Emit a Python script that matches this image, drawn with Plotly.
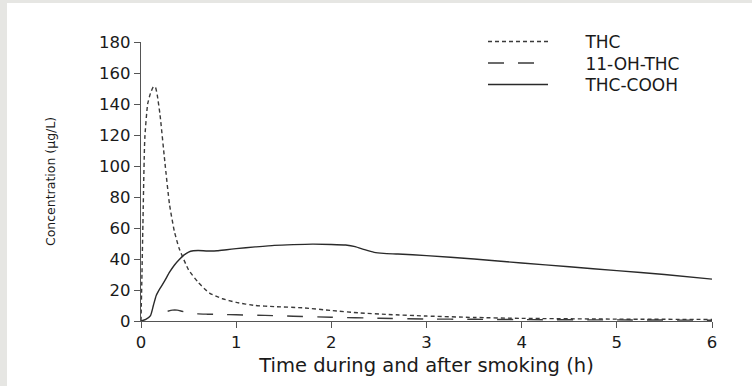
import plotly.graph_objects as go

# ---- data ----
thc_t = [0, 0.01, 0.02, 0.04, 0.07, 0.1, 0.13, 0.15, 0.17, 0.2, 0.25, 0.3, 0.35, 0.4,
         0.5, 0.6, 0.72, 0.85, 1.0, 1.2, 1.4, 1.7, 2.0, 2.3, 2.6, 3.0, 3.5, 4.0, 5.0, 6.0]
thc_c = [0, 30, 62, 118, 140, 147, 151, 151, 146, 133, 103, 75, 58, 47,
         33, 25, 18, 14.5, 12, 10, 9.3, 8.5, 6.8, 5.2, 4.2, 3.2, 2.3, 1.7, 1.2, 1.0]

oh_t = [0.28, 0.33, 0.38, 0.43, 0.5, 0.6, 0.7, 0.85, 1.0, 1.3, 1.6, 2.0, 2.5, 3.0,
        3.5, 4.0, 5.0, 6.0]
oh_c = [6.3, 7.0, 7.0, 6.3, 5.3, 4.6, 4.4, 4.2, 4.0, 3.6, 3.1, 2.4, 1.8, 1.3,
        1.1, 0.9, 0.7, 0.5]

cooh_t = [0, 0.05, 0.1, 0.13, 0.16, 0.2, 0.25, 0.3, 0.35, 0.4, 0.45, 0.5, 0.55, 0.6,
          0.7, 0.8, 0.9, 1.0, 1.2, 1.4, 1.6, 1.8, 2.0, 2.15, 2.25, 2.35, 2.45, 2.55,
          2.7, 3.0, 3.5, 4.0, 4.5, 5.0, 5.5, 6.0]
cooh_c = [0, 1, 3.5, 10, 16.5, 21, 26, 31.5, 36, 39.5, 42.5, 44.5, 45.3, 45.5,
          45.2, 45.3, 46, 46.7, 47.8, 48.8, 49.3, 49.6, 49.4, 49, 48, 46, 44.3, 43.6,
          43.2, 42.2, 40, 37.4, 35, 32.5, 30, 27]

series_names = ["THC", "11-OH-THC", "THC-COOH"]
x_ticks = [0, 1, 2, 3, 4, 5, 6]
y_ticks = [0, 20, 40, 60, 80, 100, 120, 140, 160, 180]

WIDE = "DejaVu Sans, Verdana, sans-serif"
TXT = "#1a1a1a"
PAD = "\u00a0" * 6  # gap between legend line and legend text

fig = go.Figure()
fig.add_trace(go.Scatter(x=thc_t, y=thc_c, name=PAD + series_names[0], mode="lines", legend="legend",
                         line=dict(color="#3a3a3a", width=1.4, dash="4px,3px", shape="spline", smoothing=0.5)))
fig.add_trace(go.Scatter(x=oh_t, y=oh_c, name=PAD + series_names[1], mode="lines", legend="legend2",
                         line=dict(color="#3a3a3a", width=1.4, dash="16px,14px", shape="spline", smoothing=0.5)))
fig.add_trace(go.Scatter(x=cooh_t, y=cooh_c, name=PAD + series_names[2], mode="lines", legend="legend3",
                         line=dict(color="#2a2a2a", width=1.4, shape="spline", smoothing=0.5)))

W, H = 752, 386
L, R, T, B = 141, 40, 42, 65
pw, ph = W - L - R, H - T - B

def px2paper_x(px):
    return (px - L) / pw

def px2paper_y(py):
    return (H - B - py) / ph

GREY = "#e6e6e3"
# slide-like grey strips on the left and top edges
fig.add_shape(type="rect", xref="paper", yref="paper", layer="below",
              x0=px2paper_x(-5), x1=px2paper_x(7), y0=px2paper_y(400), y1=px2paper_y(-5),
              fillcolor=GREY, line=dict(width=0))
fig.add_shape(type="rect", xref="paper", yref="paper", layer="below",
              x0=px2paper_x(-5), x1=px2paper_x(760), y0=px2paper_y(3), y1=px2paper_y(-5),
              fillcolor=GREY, line=dict(width=0))

axis_common = dict(showgrid=False, zeroline=False, showline=True, linecolor="#555555",
                   linewidth=1.3, ticks="outside", ticklen=6, tickcolor="#555555",
                   tickwidth=1.3, tickfont=dict(family=WIDE, size=16.5, color=TXT))

def legend_row(py):
    return dict(x=px2paper_x(483), y=px2paper_y(py), xanchor="left", yanchor="middle",
                bgcolor="rgba(0,0,0,0)", font=dict(family=WIDE, size=17, color=TXT),
                itemwidth=60, tracegroupgap=0)

fig.update_layout(
    width=W, height=H,
    margin=dict(l=L, r=R, t=T, b=B, pad=0),
    paper_bgcolor="white",
    plot_bgcolor="rgba(0,0,0,0)",
    font=dict(family=WIDE, color=TXT),
    xaxis=dict(range=[0, 6], tickvals=x_ticks,
               title=dict(text="Time during and after smoking (h)",
                          font=dict(family=WIDE, size=19.5), standoff=7),
               **axis_common),
    yaxis=dict(range=[0, 180], tickvals=y_ticks,
               title=dict(text="Concentration (µg/L)",
                          font=dict(family=WIDE, size=12.5), standoff=40),
               **axis_common),
    legend=legend_row(42),
    legend2=legend_row(63.5),
    legend3=legend_row(85),
    showlegend=True,
)

fig.write_html("out.html", config={"displayModeBar": False},
               post_script="document.body.style.margin='0';document.body.style.padding='0';")
